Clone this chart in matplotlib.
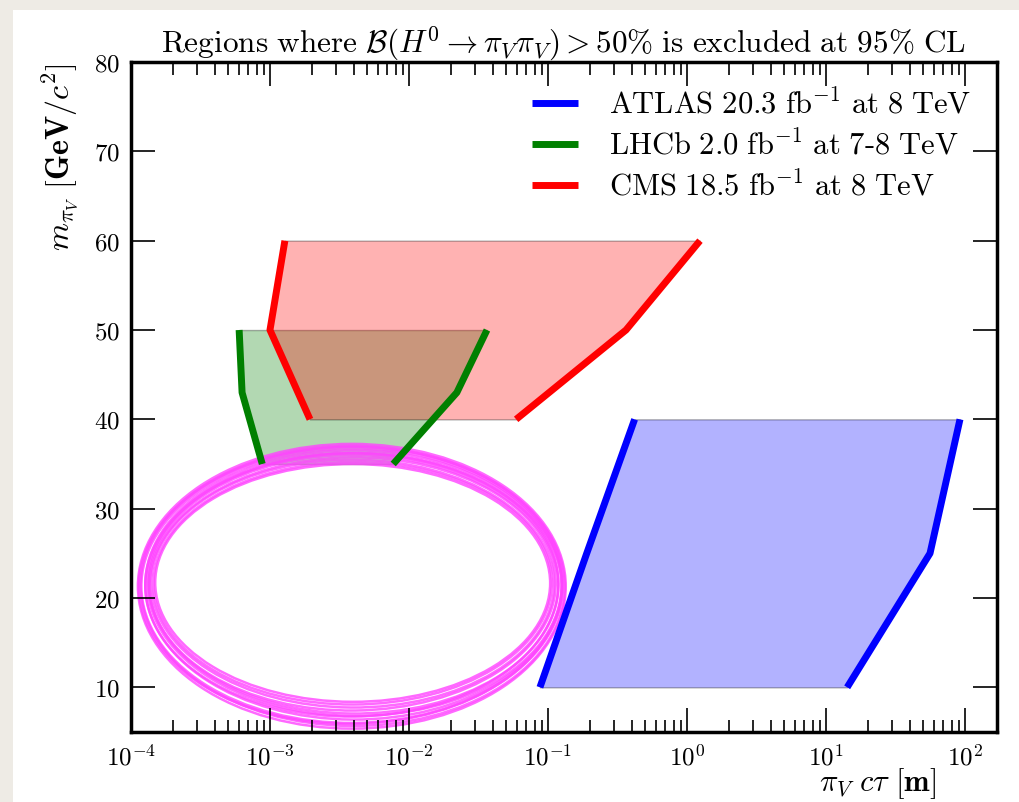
import numpy as np
import matplotlib
matplotlib.use('Agg')
import matplotlib.pyplot as plt
from matplotlib.patches import Ellipse, Rectangle

plt.rcParams['mathtext.fontset'] = 'cm'
plt.rcParams['font.family'] = 'serif'
plt.rcParams['font.serif'] = ['cmr10', 'DejaVu Serif']
plt.rcParams['axes.formatter.use_mathtext'] = True

# excluded regions: mass [GeV] vs lower / upper c*tau [m]
atlas_m = [10, 25, 40]
atlas_lo = [0.0875, 0.19, 0.42]
atlas_hi = [14.2, 56, 92]

lhcb_m = [35, 43, 50]
lhcb_lo = [8.8e-4, 6.3e-4, 6.0e-4]
lhcb_hi = [7.7e-3, 0.0221, 0.0364]

cms_m = [40, 50, 60]
cms_lo = [1.94e-3, 1.0e-3, 1.28e-3]
cms_hi = [0.059, 0.364, 1.24]

labels = [r'$\mathrm{ATLAS\ 20.3\ fb^{-1}\ at\ 8\ TeV}$',
          r'$\mathrm{LHCb\ 2.0\ fb^{-1}\ at\ 7}$-$\mathrm{8\ TeV}$',
          r'$\mathrm{CMS\ 18.5\ fb^{-1}\ at\ 8\ TeV}$']
colors = ['blue', 'green', 'red']

# hand drawn ring (axes fraction): cx, cy, w, h, angle
ring = [(0.255, 0.2175, 0.494, 0.425, 0.0),
        (0.256, 0.2180, 0.490, 0.418, -0.8),
        (0.255, 0.2185, 0.486, 0.410, 0.6),
        (0.257, 0.2195, 0.481, 0.402, -0.4),
        (0.255, 0.2200, 0.477, 0.394, 1.0),
        (0.257, 0.2205, 0.473, 0.386, -1.0),
        (0.256, 0.2210, 0.469, 0.378, 0.9),
        (0.256, 0.2215, 0.465, 0.370, -0.6),
        (0.256, 0.2220, 0.460, 0.362, 0.3),
        (0.256, 0.2225, 0.456, 0.355, -0.2),
        (0.254, 0.2190, 0.490, 0.414, 1.2),
        (0.258, 0.2200, 0.478, 0.392, -1.2)]

fig = plt.figure(figsize=(10.2, 8.03), dpi=100, facecolor='#eeebe5')
fig.patches.append(Rectangle((13 / 1020, 0), 1, (803 - 11) / 803,
                             transform=fig.transFigure, facecolor='white',
                             edgecolor='none', zorder=-10))
ax = fig.add_axes([0.1284, 0.0872, 0.8491, 0.8343])

sets = [(atlas_m, atlas_lo, atlas_hi), (lhcb_m, lhcb_lo, lhcb_hi), (cms_m, cms_lo, cms_hi)]
for (m, lo, hi), c, lab in zip(sets, colors, labels):
    ax.fill_betweenx(m, lo, hi, facecolor=c, alpha=0.3, edgecolor='k', linewidth=1)
for (m, lo, hi), c, lab in zip(sets, colors, labels):
    ax.plot(lo, m, color=c, lw=5, solid_capstyle='butt', label=lab)
    ax.plot(hi, m, color=c, lw=5, solid_capstyle='butt')

for cx, cy, w, h, ang in ring:
    ax.add_patch(Ellipse((cx, cy), w, h, angle=ang, transform=ax.transAxes,
                         fill=False, edgecolor='#ff44ff', lw=1.8, alpha=0.8))

ax.set_xscale('log')
ax.set_xlim(1e-4, 170)
ax.set_ylim(5, 80)
ax.set_yticks([10, 20, 30, 40, 50, 60, 70, 80])
ax.tick_params(which='both', direction='in', top=True, right=True, labelsize=18)
ax.tick_params(which='major', length=17, width=1.2, pad=8)
ax.tick_params(which='minor', length=9, width=1.2)
for s in ax.spines.values():
    s.set_linewidth(2.5)

ax.set_title(r'$\mathrm{Regions\ where\ }\mathcal{B}(H^0\to\pi_V\pi_V)>50\%'
             r'\mathrm{\ is\ excluded\ at\ }95\%\mathrm{\ CL}$', fontsize=22.5, pad=5)
ax.set_xlabel(r'$\pi_V\ c\tau\ \mathbf{[m]}$', fontsize=22, ha='right')
ax.xaxis.set_label_coords(0.93, -0.05)
ax.set_ylabel(r'$m_{\pi_V}\ \mathbf{[GeV/}c^2\mathbf{]}$', fontsize=23, ha='right')
ax.yaxis.set_label_coords(-0.058, 1.0)

ax.legend(loc='upper right', frameon=False, fontsize=22, handlelength=1.5,
          handletextpad=1.0, labelspacing=0.32, borderaxespad=0.45)

fig.savefig('out.png', dpi=100, facecolor=fig.get_facecolor())
